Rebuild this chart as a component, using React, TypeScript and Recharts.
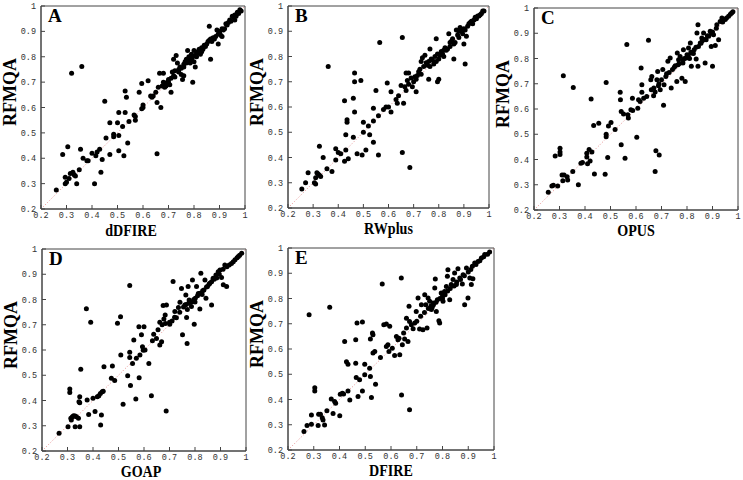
import React from "react";
import { ScatterChart, Scatter, XAxis, YAxis, ReferenceLine, ReferenceArea, Label } from "recharts";

type Pt = [number, number];

const TICKS = [0.2, 0.3, 0.4, 0.5, 0.6, 0.7, 0.8, 0.9, 1];

// RFMQA score (y) against each scoring function (x)
const dDFIRE: Pt[] = [
  [0.26, 0.275], [0.285, 0.415], [0.305, 0.445], [0.295, 0.325], [0.295, 0.3], [0.3, 0.305],
  [0.31, 0.32], [0.315, 0.34], [0.325, 0.345], [0.33, 0.335], [0.335, 0.33], [0.34, 0.3],
  [0.32, 0.735], [0.36, 0.762], [0.35, 0.355], [0.355, 0.435], [0.365, 0.4], [0.38, 0.39],
  [0.385, 0.39], [0.4, 0.42], [0.41, 0.3], [0.415, 0.41], [0.42, 0.425], [0.43, 0.435],
  [0.435, 0.345], [0.44, 0.395], [0.45, 0.625], [0.455, 0.48], [0.47, 0.415], [0.47, 0.54],
  [0.485, 0.495], [0.485, 0.485], [0.5, 0.54], [0.505, 0.58], [0.505, 0.49], [0.505, 0.43],
  [0.52, 0.525], [0.525, 0.41], [0.53, 0.665], [0.53, 0.58], [0.535, 0.64], [0.54, 0.46],
  [0.545, 0.545], [0.565, 0.57], [0.57, 0.55], [0.57, 0.565], [0.585, 0.66], [0.595, 0.695],
  [0.595, 0.595], [0.6, 0.61], [0.6, 0.6], [0.62, 0.705], [0.63, 0.645], [0.635, 0.64],
  [0.64, 0.645], [0.65, 0.66], [0.655, 0.418], [0.655, 0.62], [0.66, 0.68], [0.665, 0.735],
  [0.67, 0.6], [0.675, 0.685], [0.68, 0.735], [0.68, 0.7], [0.685, 0.68], [0.69, 0.695],
  [0.695, 0.7], [0.7, 0.71], [0.705, 0.69], [0.71, 0.66], [0.71, 0.715], [0.715, 0.74],
  [0.72, 0.79], [0.725, 0.72], [0.73, 0.805], [0.735, 0.775], [0.74, 0.75], [0.745, 0.76],
  [0.75, 0.73], [0.755, 0.71], [0.76, 0.725], [0.76, 0.77], [0.765, 0.78], [0.77, 0.79],
  [0.775, 0.825], [0.78, 0.8], [0.785, 0.775], [0.79, 0.81], [0.795, 0.7], [0.8, 0.78],
  [0.8, 0.825], [0.805, 0.76], [0.81, 0.8], [0.815, 0.82], [0.82, 0.83], [0.825, 0.81],
  [0.83, 0.82], [0.84, 0.845], [0.845, 0.84], [0.85, 0.85], [0.855, 0.86], [0.86, 0.92],
  [0.865, 0.79], [0.87, 0.86], [0.875, 0.875], [0.88, 0.87], [0.885, 0.88], [0.89, 0.905],
  [0.895, 0.85], [0.9, 0.895], [0.905, 0.885], [0.91, 0.88], [0.915, 0.905], [0.92, 0.91],
  [0.93, 0.925], [0.935, 0.935], [0.94, 0.945], [0.945, 0.94], [0.95, 0.96], [0.955, 0.955],
  [0.96, 0.965], [0.965, 0.96], [0.97, 0.975], [0.975, 0.97], [0.98, 0.985], [0.985, 0.98],
  [0.925, 0.93], [0.96, 0.945], [0.78, 0.785], [0.79, 0.79], [0.81, 0.815], [0.82, 0.82],
  [0.83, 0.835], [0.86, 0.865], [0.87, 0.87], [0.75, 0.755], [0.77, 0.775], [0.74, 0.74],
  [0.7, 0.7], [0.69, 0.685], [0.72, 0.725], [0.76, 0.76], [0.9, 0.9], [0.91, 0.91],
  [0.795, 0.8], [0.805, 0.805], [0.835, 0.83], [0.865, 0.87], [0.895, 0.89], [0.725, 0.745],
];

const RWplus: Pt[] = [
  [0.255, 0.275], [0.27, 0.3], [0.28, 0.34], [0.305, 0.3], [0.31, 0.295], [0.31, 0.32],
  [0.315, 0.34], [0.32, 0.335], [0.325, 0.445], [0.325, 0.33], [0.33, 0.325], [0.34, 0.4],
  [0.355, 0.355], [0.36, 0.76], [0.375, 0.345], [0.39, 0.435], [0.39, 0.39], [0.4, 0.42],
  [0.41, 0.415], [0.425, 0.625], [0.425, 0.385], [0.43, 0.43], [0.435, 0.55], [0.435, 0.54],
  [0.43, 0.49], [0.44, 0.395], [0.46, 0.635], [0.465, 0.735], [0.465, 0.7], [0.465, 0.58],
  [0.46, 0.48], [0.475, 0.415], [0.49, 0.705], [0.495, 0.41], [0.5, 0.5], [0.5, 0.54],
  [0.51, 0.43], [0.52, 0.525], [0.525, 0.49], [0.54, 0.595], [0.54, 0.545], [0.54, 0.46],
  [0.55, 0.665], [0.56, 0.41], [0.565, 0.855], [0.56, 0.565], [0.58, 0.59], [0.59, 0.6],
  [0.595, 0.695], [0.6, 0.6], [0.61, 0.66], [0.61, 0.58], [0.63, 0.63], [0.635, 0.615],
  [0.64, 0.645], [0.65, 0.685], [0.655, 0.875], [0.655, 0.42], [0.66, 0.615], [0.665, 0.68],
  [0.67, 0.735], [0.675, 0.705], [0.685, 0.36], [0.68, 0.735], [0.69, 0.715], [0.7, 0.7],
  [0.71, 0.66], [0.72, 0.74], [0.73, 0.78], [0.735, 0.795], [0.745, 0.805], [0.76, 0.71],
  [0.765, 0.83], [0.77, 0.79], [0.78, 0.77], [0.79, 0.87], [0.795, 0.7], [0.8, 0.71],
  [0.8, 0.79], [0.81, 0.82], [0.82, 0.8], [0.83, 0.825], [0.84, 0.89], [0.845, 0.84],
  [0.86, 0.79], [0.865, 0.855], [0.87, 0.905], [0.88, 0.875], [0.885, 0.915], [0.9, 0.85],
  [0.905, 0.77], [0.91, 0.88], [0.92, 0.93], [0.93, 0.94], [0.95, 0.95], [0.96, 0.96],
  [0.97, 0.97], [0.98, 0.98], [0.67, 0.665], [0.68, 0.69], [0.695, 0.68], [0.705, 0.72],
  [0.715, 0.725], [0.725, 0.75], [0.74, 0.76], [0.75, 0.775], [0.755, 0.765], [0.76, 0.78],
  [0.775, 0.785], [0.785, 0.8], [0.79, 0.78], [0.805, 0.805], [0.815, 0.81], [0.825, 0.835],
  [0.835, 0.83], [0.845, 0.855], [0.85, 0.86], [0.855, 0.87], [0.875, 0.885], [0.89, 0.9],
  [0.895, 0.89], [0.9, 0.91], [0.915, 0.92], [0.925, 0.935], [0.935, 0.93], [0.94, 0.945],
  [0.945, 0.955], [0.955, 0.96], [0.965, 0.965], [0.975, 0.98], [0.905, 0.905], [0.82, 0.825],
  [0.765, 0.76], [0.73, 0.73], [0.795, 0.81], [0.86, 0.85], [0.88, 0.9], [0.71, 0.71],
];

const OPUS: Pt[] = [
  [0.256, 0.27], [0.27, 0.295], [0.276, 0.298], [0.293, 0.295], [0.283, 0.414], [0.302, 0.445],
  [0.302, 0.43], [0.302, 0.42], [0.315, 0.732], [0.31, 0.339], [0.318, 0.339], [0.313, 0.316],
  [0.33, 0.332], [0.332, 0.319], [0.352, 0.352], [0.354, 0.685], [0.374, 0.3], [0.384, 0.385],
  [0.39, 0.388], [0.407, 0.41], [0.407, 0.425], [0.41, 0.383], [0.416, 0.44], [0.42, 0.394],
  [0.424, 0.64], [0.427, 0.43], [0.434, 0.535], [0.437, 0.343], [0.454, 0.544], [0.483, 0.5],
  [0.483, 0.49], [0.483, 0.705], [0.489, 0.408], [0.492, 0.533], [0.502, 0.547], [0.479, 0.342],
  [0.518, 0.519], [0.538, 0.666], [0.539, 0.637], [0.542, 0.59], [0.542, 0.458], [0.551, 0.58],
  [0.557, 0.405], [0.564, 0.855], [0.568, 0.577], [0.57, 0.564], [0.58, 0.597], [0.586, 0.643],
  [0.587, 0.594], [0.603, 0.488], [0.607, 0.603], [0.61, 0.637], [0.616, 0.63], [0.623, 0.696],
  [0.62, 0.762], [0.623, 0.666], [0.63, 0.643], [0.642, 0.65], [0.649, 0.872], [0.658, 0.716],
  [0.66, 0.676], [0.662, 0.729], [0.669, 0.652], [0.67, 0.683], [0.675, 0.667], [0.678, 0.435],
  [0.675, 0.352], [0.682, 0.716], [0.685, 0.749], [0.688, 0.692], [0.691, 0.418], [0.695, 0.676],
  [0.7, 0.716], [0.705, 0.756], [0.708, 0.615], [0.71, 0.696], [0.717, 0.729], [0.725, 0.789],
  [0.734, 0.802], [0.738, 0.683], [0.743, 0.756], [0.754, 0.771], [0.76, 0.709], [0.762, 0.822],
  [0.767, 0.795], [0.773, 0.808], [0.78, 0.722], [0.784, 0.782], [0.786, 0.835], [0.793, 0.709],
  [0.796, 0.802], [0.8, 0.815], [0.806, 0.842], [0.813, 0.861], [0.817, 0.769], [0.819, 0.822],
  [0.828, 0.835], [0.836, 0.798], [0.839, 0.901], [0.843, 0.934], [0.845, 0.848], [0.843, 0.769],
  [0.852, 0.861], [0.858, 0.881], [0.865, 0.901], [0.871, 0.782], [0.875, 0.874], [0.885, 0.888],
  [0.891, 0.908], [0.895, 0.848], [0.9, 0.769], [0.904, 0.894], [0.911, 0.851], [0.917, 0.934],
  [0.924, 0.874], [0.93, 0.947], [0.937, 0.96], [0.95, 0.954], [0.963, 0.967], [0.97, 0.975],
  [0.975, 0.98], [0.98, 0.985], [0.69, 0.7], [0.72, 0.74], [0.75, 0.765], [0.77, 0.78],
  [0.79, 0.8], [0.805, 0.81], [0.815, 0.825], [0.825, 0.82], [0.835, 0.845], [0.855, 0.86],
  [0.87, 0.875], [0.88, 0.89], [0.9, 0.905], [0.915, 0.92], [0.94, 0.945], [0.955, 0.96],
  [0.81, 0.8], [0.785, 0.795], [0.765, 0.775], [0.73, 0.745], [0.86, 0.87], [0.895, 0.9],
];

const GOAP: Pt[] = [
  [0.267, 0.27], [0.302, 0.296], [0.309, 0.446], [0.309, 0.432], [0.313, 0.33], [0.315, 0.323],
  [0.319, 0.336], [0.324, 0.34], [0.33, 0.339], [0.335, 0.336], [0.33, 0.296], [0.343, 0.33],
  [0.348, 0.296], [0.348, 0.415], [0.352, 0.524], [0.348, 0.391], [0.345, 0.395], [0.374, 0.763],
  [0.377, 0.402], [0.383, 0.345], [0.391, 0.71], [0.4, 0.409], [0.408, 0.356], [0.417, 0.415],
  [0.423, 0.419], [0.429, 0.428], [0.436, 0.435], [0.44, 0.437], [0.43, 0.303], [0.433, 0.343],
  [0.443, 0.534], [0.472, 0.488], [0.476, 0.537], [0.485, 0.479], [0.496, 0.706], [0.508, 0.732],
  [0.509, 0.58], [0.518, 0.385], [0.536, 0.498], [0.544, 0.591], [0.544, 0.57], [0.544, 0.855],
  [0.547, 0.459], [0.555, 0.547], [0.56, 0.64], [0.568, 0.406], [0.57, 0.567], [0.58, 0.692],
  [0.581, 0.49], [0.584, 0.58], [0.59, 0.66], [0.594, 0.613], [0.597, 0.599], [0.6, 0.692],
  [0.604, 0.6], [0.619, 0.547], [0.629, 0.419], [0.633, 0.637], [0.638, 0.662], [0.649, 0.646],
  [0.655, 0.68], [0.662, 0.71], [0.662, 0.62], [0.669, 0.633], [0.671, 0.7], [0.675, 0.776],
  [0.678, 0.723], [0.683, 0.739], [0.684, 0.705], [0.687, 0.358], [0.688, 0.778], [0.701, 0.702],
  [0.71, 0.715], [0.714, 0.871], [0.721, 0.752], [0.727, 0.728], [0.735, 0.768], [0.741, 0.789],
  [0.747, 0.844], [0.751, 0.66], [0.76, 0.778], [0.764, 0.818], [0.767, 0.729], [0.769, 0.626],
  [0.773, 0.851], [0.777, 0.798], [0.786, 0.772], [0.79, 0.877], [0.797, 0.702], [0.801, 0.805],
  [0.806, 0.851], [0.813, 0.824], [0.819, 0.762], [0.823, 0.904], [0.828, 0.82], [0.835, 0.838],
  [0.839, 0.877], [0.843, 0.805], [0.849, 0.851], [0.858, 0.864], [0.865, 0.778], [0.871, 0.884],
  [0.882, 0.897], [0.891, 0.91], [0.898, 0.917], [0.904, 0.887], [0.911, 0.858], [0.917, 0.937],
  [0.924, 0.851], [0.934, 0.937], [0.943, 0.943], [0.957, 0.957], [0.97, 0.97], [0.983, 0.983],
  [0.7, 0.71], [0.72, 0.73], [0.74, 0.75], [0.755, 0.77], [0.765, 0.78], [0.775, 0.785],
  [0.785, 0.79], [0.795, 0.8], [0.81, 0.815], [0.82, 0.825], [0.83, 0.835], [0.845, 0.85],
  [0.855, 0.86], [0.865, 0.87], [0.875, 0.88], [0.885, 0.885], [0.895, 0.9], [0.91, 0.92],
  [0.925, 0.93], [0.95, 0.95], [0.965, 0.965], [0.975, 0.975], [0.8, 0.79], [0.77, 0.76],
];

const DFIRE: Pt[] = [
  [0.262, 0.273], [0.274, 0.297], [0.282, 0.736], [0.291, 0.302], [0.291, 0.339], [0.304, 0.447],
  [0.304, 0.434], [0.317, 0.297], [0.319, 0.342], [0.326, 0.342], [0.333, 0.328], [0.336, 0.319],
  [0.342, 0.299], [0.351, 0.355], [0.362, 0.765], [0.368, 0.402], [0.375, 0.345], [0.381, 0.392],
  [0.385, 0.385], [0.401, 0.336], [0.403, 0.421], [0.411, 0.425], [0.416, 0.422], [0.42, 0.63],
  [0.427, 0.55], [0.433, 0.54], [0.433, 0.434], [0.44, 0.398], [0.463, 0.637], [0.463, 0.544],
  [0.465, 0.487], [0.468, 0.703], [0.472, 0.412], [0.478, 0.478], [0.489, 0.707], [0.489, 0.434],
  [0.498, 0.498], [0.498, 0.54], [0.517, 0.524], [0.52, 0.491], [0.52, 0.64], [0.524, 0.408],
  [0.528, 0.663], [0.53, 0.656], [0.53, 0.584], [0.537, 0.59], [0.54, 0.46], [0.559, 0.566],
  [0.566, 0.857], [0.572, 0.696], [0.582, 0.699], [0.582, 0.61], [0.588, 0.617], [0.592, 0.59],
  [0.595, 0.69], [0.605, 0.603], [0.614, 0.574], [0.621, 0.65], [0.627, 0.637], [0.631, 0.643],
  [0.634, 0.577], [0.64, 0.881], [0.641, 0.418], [0.644, 0.617], [0.649, 0.663], [0.653, 0.64],
  [0.66, 0.683], [0.66, 0.722], [0.666, 0.63], [0.67, 0.769], [0.672, 0.709], [0.672, 0.359],
  [0.679, 0.696], [0.686, 0.68], [0.692, 0.703], [0.698, 0.749], [0.705, 0.802], [0.711, 0.679],
  [0.718, 0.775], [0.724, 0.676], [0.731, 0.815], [0.735, 0.775], [0.74, 0.683], [0.744, 0.802],
  [0.75, 0.789], [0.757, 0.756], [0.763, 0.782], [0.77, 0.842], [0.772, 0.877], [0.776, 0.749],
  [0.78, 0.795], [0.786, 0.712], [0.789, 0.703], [0.795, 0.822], [0.802, 0.789], [0.808, 0.828],
  [0.815, 0.848], [0.819, 0.888], [0.821, 0.914], [0.828, 0.795], [0.834, 0.855], [0.841, 0.875],
  [0.847, 0.901], [0.854, 0.855], [0.86, 0.918], [0.867, 0.881], [0.877, 0.857], [0.88, 0.894],
  [0.886, 0.775], [0.893, 0.921], [0.899, 0.802], [0.906, 0.881], [0.912, 0.855], [0.916, 0.928],
  [0.918, 0.878], [0.925, 0.941], [0.938, 0.947], [0.951, 0.96], [0.964, 0.974], [0.983, 0.984],
  [0.7, 0.71], [0.715, 0.73], [0.73, 0.745], [0.745, 0.76], [0.755, 0.77], [0.765, 0.775],
  [0.775, 0.785], [0.79, 0.8], [0.8, 0.81], [0.81, 0.815], [0.82, 0.83], [0.83, 0.84],
  [0.845, 0.85], [0.855, 0.865], [0.87, 0.875], [0.885, 0.89], [0.9, 0.905], [0.91, 0.915],
  [0.93, 0.935], [0.945, 0.95], [0.96, 0.965], [0.975, 0.975], [0.76, 0.765], [0.8, 0.8],
];

const PANELS = [
  { letter: "A", name: "dDFIRE", data: dDFIRE, left: 41, top: 6, w: 204, h: 203, dx: -12, dy: 27 },
  { letter: "B", name: "RWplus", data: RWplus, left: 288, top: 6, w: 201, h: 202, dx: 0, dy: 26 },
  { letter: "C", name: "OPUS", data: OPUS, left: 534, top: 8, w: 204, h: 202, dx: 0, dy: 26 },
  { letter: "D", name: "GOAP", data: GOAP, left: 42, top: 249, w: 204, h: 202, dx: -3, dy: 26 },
  { letter: "E", name: "DFIRE", data: DFIRE, left: 288, top: 248, w: 206, h: 202, dx: 0, dy: 26 },
];

const YW = 48; // room left of each plot for tick labels and the RFMQA title
const XH = 34; // room below each plot for tick labels and the x title
const tickFmt = (v: number) => (v === 1 ? "1" : v.toFixed(1));
const tickStyle = { fontSize: 8.5, fontFamily: "Liberation Mono", fill: "#333" };
const serif = "Liberation Serif";

const Dot = (props: any) => <circle cx={props.cx} cy={props.cy} r={2.5} fill="#000" />;

function Panel({ p }: { p: (typeof PANELS)[number] }) {
  const data = p.data.map(([x, y]) => ({ x, y }));
  return (
    <div style={{ position: "absolute", left: p.left - YW, top: p.top - 6 }}>
      <ScatterChart width={p.w + YW + 5} height={p.h + XH + 6} margin={{ top: 6, right: 5, left: 0, bottom: 0 }}>
        <XAxis
          dataKey="x"
          type="number"
          domain={[0.2, 1]}
          ticks={TICKS}
          allowDataOverflow
          height={XH}
          tickSize={-4}
          tickMargin={7}
          tickFormatter={tickFmt}
          tick={tickStyle}
          stroke="#444"
        >
          <Label
            content={(lp: any) => {
              const vb = lp.viewBox;
              return (
                <g transform={`translate(${vb.x + vb.width / 2 + p.dx},${vb.y + p.dy}) scale(0.88,1)`}>
                  <text x={0} y={0} textAnchor="middle" fontFamily={serif} fontWeight="bold" fontSize={16} fill="#000">
                    {p.name}
                  </text>
                </g>
              );
            }}
          />
        </XAxis>
        <YAxis
          dataKey="y"
          type="number"
          domain={[0.2, 1]}
          ticks={TICKS}
          allowDataOverflow
          width={YW}
          tickSize={-4}
          tickMargin={9}
          tickFormatter={tickFmt}
          tick={tickStyle}
          stroke="#444"
        >
          <Label
            content={(lp: any) => {
              const vb = lp.viewBox;
              const cx = vb.x + vb.width - 31;
              const cy = vb.y + 86;
              return (
                <text
                  x={cx}
                  y={cy}
                  transform={`rotate(-90 ${cx} ${cy})`}
                  textAnchor="middle"
                  dominantBaseline="central"
                  fontFamily={serif}
                  fontWeight="bold"
                  fontSize={18}
                  fill="#000"
                >
                  RFMQA
                </text>
              );
            }}
          />
        </YAxis>
        <ReferenceArea
          x1={0.2}
          x2={1}
          y1={0.2}
          y2={1}
          fill="none"
          stroke="#444"
          strokeWidth={1}
          ifOverflow="visible"
          label={(lp: any) => {
            const vb = lp.viewBox;
            return (
              <text x={vb.x + 7} y={vb.y + 16} fontFamily={serif} fontWeight="bold" fontSize={19} fill="#000">
                {p.letter}
              </text>
            );
          }}
        />
        <ReferenceLine
          segment={[{ x: 0.2, y: 0.2 }, { x: 1, y: 1 }]}
          stroke="#e07070"
          strokeWidth={0.8}
          strokeDasharray="1 2"
        />
        <Scatter data={data} shape={Dot} isAnimationActive={false} />
      </ScatterChart>
    </div>
  );
}

export default function App() {
  return (
    <div style={{ position: "absolute", left: 0, top: 0, width: 743, height: 480, background: "#fff" }}>
      {PANELS.map((p) => (
        <Panel key={p.letter} p={p} />
      ))}
    </div>
  );
}
